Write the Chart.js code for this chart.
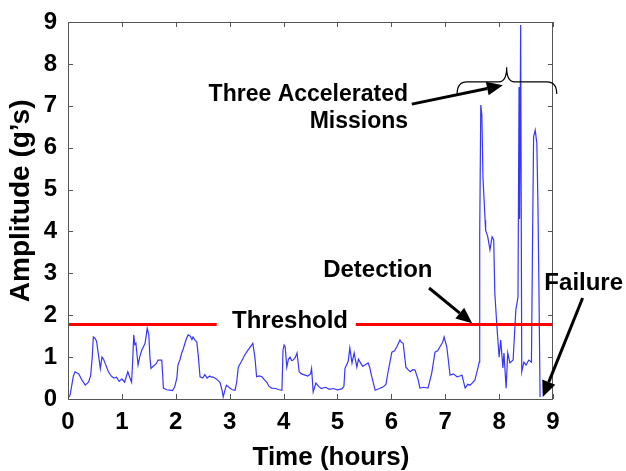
<!DOCTYPE html>
<html>
<head>
<meta charset="utf-8">
<script src="https://cdn.jsdelivr.net/npm/chart.js@4.4.1/dist/chart.umd.min.js"></script>
<style>
  html, body { margin: 0; padding: 0; background: #fff; }
</style>
</head>
<body>
<canvas id="vibChart" width="626" height="471"></canvas>
<script>
// Time (hours) and amplitude (g's)
var timeHours = [
  0.02, 0.04, 0.10, 0.13, 0.20, 0.26, 0.32, 0.38, 0.42, 0.45, 0.47, 0.50, 0.53, 0.56, 0.60, 0.63, 0.66, 0.69, 0.75, 0.80,
  0.85, 0.90, 0.95, 1.00, 1.05, 1.11, 1.15, 1.18, 1.20, 1.22, 1.24, 1.26, 1.30, 1.33, 1.37, 1.40, 1.43, 1.45, 1.47, 1.50,
  1.52, 1.54, 1.58, 1.61, 1.64, 1.67, 1.74, 1.76, 1.77, 1.83, 1.89, 1.94, 1.98, 2.02, 2.04, 2.08, 2.11, 2.14, 2.17, 2.20,
  2.23, 2.27, 2.30, 2.32, 2.36, 2.39, 2.42, 2.45, 2.50, 2.54, 2.58, 2.63, 2.66, 2.69, 2.75, 2.82, 2.86, 2.88, 2.91, 2.94,
  2.97, 3.00, 3.05, 3.10, 3.13, 3.16, 3.22, 3.28, 3.33, 3.38, 3.43, 3.47, 3.50, 3.55, 3.60, 3.65, 3.69, 3.73, 3.78, 3.85,
  3.92, 3.97, 3.99, 4.01, 4.03, 4.06, 4.09, 4.12, 4.15, 4.18, 4.22, 4.25, 4.29, 4.33, 4.40, 4.45, 4.50, 4.52, 4.55, 4.60,
  4.65, 4.70, 4.78, 4.85, 4.92, 5.00, 5.08, 5.12, 5.14, 5.20, 5.23, 5.27, 5.31, 5.36, 5.39, 5.42, 5.47, 5.51, 5.57, 5.60,
  5.63, 5.70, 5.78, 5.85, 5.90, 5.94, 6.01, 6.06, 6.10, 6.16, 6.19, 6.22, 6.27, 6.31, 6.35, 6.40, 6.44, 6.50, 6.53, 6.60,
  6.68, 6.75, 6.81, 6.86, 6.90, 6.95, 6.98, 7.03, 7.06, 7.09, 7.15, 7.22, 7.27, 7.31, 7.37, 7.42, 7.46, 7.50, 7.55, 7.61,
  7.63, 7.64, 7.66, 7.68, 7.70, 7.74, 7.75, 7.79, 7.83, 7.87, 7.90, 7.92, 7.96, 8.00, 8.03, 8.07, 8.09, 8.13, 8.16, 8.20,
  8.26, 8.31, 8.35, 8.37, 8.38, 8.40, 8.42, 8.46, 8.50, 8.55, 8.60, 8.62, 8.64, 8.67, 8.70, 8.72, 8.74, 8.76
];
var amplitude = [
  0.05, 0.10, 0.55, 0.65, 0.60, 0.45, 0.33, 0.40, 0.55, 1.00, 1.48, 1.45, 1.38, 1.10, 0.73, 1.00, 0.95, 0.85, 0.65, 0.55,
  0.50, 0.52, 0.42, 0.48, 0.40, 0.65, 0.50, 0.40, 0.90, 1.53, 1.30, 1.33, 0.81, 1.00, 1.17, 1.25, 1.33, 1.50, 1.69, 1.53,
  1.00, 0.73, 0.78, 0.81, 0.85, 0.93, 0.93, 0.50, 0.26, 0.22, 0.21, 0.20, 0.29, 0.50, 0.81, 0.95, 1.10, 1.20, 1.33, 1.45,
  1.53, 1.50, 1.42, 1.48, 1.40, 1.36, 1.00, 0.53, 0.50, 0.58, 0.50, 0.55, 0.52, 0.53, 0.48, 0.40, 0.20, 0.05, 0.20, 0.33,
  0.30, 0.26, 0.22, 0.21, 0.40, 0.76, 0.90, 1.05, 1.15, 1.24, 1.33, 0.98, 0.53, 0.55, 0.53, 0.45, 0.40, 0.30, 0.26, 0.25,
  0.22, 0.21, 1.17, 1.29, 1.25, 0.76, 0.95, 1.00, 0.92, 0.93, 1.00, 1.10, 0.65, 0.60, 0.57, 0.55, 0.60, 0.73, 0.17, 0.38,
  0.30, 0.25, 0.28, 0.23, 0.25, 0.22, 0.24, 0.30, 0.73, 0.90, 1.22, 0.86, 1.10, 0.76, 0.95, 0.88, 0.78, 0.81, 0.86, 0.75,
  0.57, 0.21, 0.25, 0.29, 0.35, 0.65, 1.12, 1.15, 1.24, 1.41, 1.35, 1.33, 0.76, 0.70, 0.65, 0.70, 0.69, 0.45, 0.26, 0.28,
  0.26, 0.62, 1.12, 1.15, 1.24, 1.35, 1.48, 1.24, 0.90, 0.57, 0.60, 0.53, 0.55, 0.57, 0.26, 0.35, 0.33, 0.38, 0.45, 0.76,
  0.88, 3.96, 7.02, 6.78, 5.30, 4.27, 4.03, 3.87, 3.56, 3.87, 3.80, 2.53, 1.72, 1.00, 1.41, 0.74, 1.10, 0.26, 1.10, 0.86,
  0.93, 2.12, 2.43, 7.45, 4.30, 8.93, 0.65, 0.88, 0.81, 0.93, 0.88, 3.72, 6.26, 6.42, 6.11, 4.68, 2.53, 0.05
];

// Threshold level, with a gap where its label sits
var thresholdLevel = 1.78;
var thresholdX = [0, 2.76, 2.77, 5.34, 9];
var thresholdY = [thresholdLevel, thresholdLevel, null, thresholdLevel, thresholdLevel];

var xTicks = [0, 1, 2, 3, 4, 5, 6, 7, 8, 9];
var yTicks = [0, 1, 2, 3, 4, 5, 6, 7, 8, 9];

var FONT = '"Liberation Sans", Arial, Helvetica, sans-serif';

var trace = timeHours.map(function (t, i) { return { x: t, y: amplitude[i] }; });
var threshold = thresholdX.map(function (t, i) { return { x: t, y: thresholdY[i] }; });

// Draws the MATLAB style box, inward ticks, axis titles and the callouts
var figureExtras = {
  id: "figureExtras",
  afterDatasetsDraw: function (chart) {
    var ctx = chart.ctx;
    var a = chart.chartArea;
    var xs = chart.scales.x, ys = chart.scales.y;
    ctx.save();
    ctx.strokeStyle = "#555";
    ctx.lineWidth = 1;
    ctx.strokeRect(a.left + 0.5, a.top + 0.5, a.right - a.left - 1, a.bottom - a.top);
    ctx.beginPath();
    xTicks.forEach(function (t) {
      var x = Math.round(xs.getPixelForValue(t)) + 0.5;
      ctx.moveTo(x, a.bottom); ctx.lineTo(x, a.bottom - 5);
      ctx.moveTo(x, a.top); ctx.lineTo(x, a.top + 5);
    });
    yTicks.forEach(function (v) {
      var y = Math.round(ys.getPixelForValue(v)) + 0.5;
      ctx.moveTo(a.left, y); ctx.lineTo(a.left + 5, y);
      ctx.moveTo(a.right, y); ctx.lineTo(a.right - 5, y);
    });
    ctx.stroke();
    ctx.restore();
  },
  afterDraw: function (chart) {
    var ctx = chart.ctx;
    var xs = chart.scales.x, ys = chart.scales.y;
    function P(t, v) { return [xs.getPixelForValue(t), ys.getPixelForValue(v)]; }

    function arrow(from, to) {
      var p0 = P(from[0], from[1]), p1 = P(to[0], to[1]);
      var ang = Math.atan2(p1[1] - p0[1], p1[0] - p0[0]);
      var len = 16, wid = 7;
      var bx = p1[0] - len * Math.cos(ang), by = p1[1] - len * Math.sin(ang);
      ctx.strokeStyle = "#000";
      ctx.fillStyle = "#000";
      ctx.lineWidth = 3;
      ctx.beginPath();
      ctx.moveTo(p0[0], p0[1]);
      ctx.lineTo(bx, by);
      ctx.stroke();
      ctx.beginPath();
      ctx.moveTo(p1[0], p1[1]);
      ctx.lineTo(bx + wid * Math.sin(ang), by - wid * Math.cos(ang));
      ctx.lineTo(bx - wid * Math.sin(ang), by + wid * Math.cos(ang));
      ctx.closePath();
      ctx.fill();
    }

    function label(text, t, v, align, size) {
      var p = P(t, v);
      ctx.fillStyle = "#000";
      ctx.font = "bold " + size + "px " + FONT;
      ctx.textAlign = align;
      ctx.textBaseline = "middle";
      ctx.fillText(text, p[0], p[1]);
    }

    ctx.save();
    // axis titles (the original sits a bit off-centre)
    ctx.fillStyle = "#000";
    ctx.textAlign = "center";
    ctx.textBaseline = "middle";
    ctx.font = "bold 26px " + FONT;
    ctx.fillText("Time (hours)", xs.getPixelForValue(4.88), 458);
    ctx.save();
    ctx.translate(21, ys.getPixelForValue(4.73));
    ctx.rotate(-Math.PI / 2);
    ctx.font = "bold 28px " + FONT;
    ctx.fillText("Amplitude (g\u2019s)", 0, 0);
    ctx.restore();

    label("Three Accelerated", 6.31, 7.26, "right", 23);
    label("Missions", 6.31, 6.61, "right", 23);
    label("Detection", 5.75, 3.06, "center", 24);
    label("Threshold", 4.12, 1.86, "center", 24);
    label("Failure", 9.57, 2.76, "center", 24);

    arrow([6.38, 7.04], [8.07, 7.49]);
    arrow([6.70, 2.65], [7.50, 1.81]);
    arrow([9.55, 2.41], [8.81, 0.05]);

    // curly brace over the three missions
    var L = P(7.22, 7.28), M = P(8.14, 7.92), R = P(9.07, 7.28);
    var h = ys.getPixelForValue(7.57);
    ctx.strokeStyle = "#000";
    ctx.lineWidth = 1.2;
    ctx.beginPath();
    ctx.moveTo(L[0], L[1]);
    ctx.quadraticCurveTo(L[0], h, L[0] + 10, h);
    ctx.lineTo(M[0] - 8, h);
    ctx.quadraticCurveTo(M[0], h, M[0], M[1]);
    ctx.quadraticCurveTo(M[0], h, M[0] + 8, h);
    ctx.lineTo(R[0] - 10, h);
    ctx.quadraticCurveTo(R[0], h, R[0], R[1]);
    ctx.stroke();
    ctx.restore();
  }
};

var ctx = document.getElementById("vibChart").getContext("2d");

var myChart = new Chart(ctx, {
  type: "line",
  data: {
    datasets: [
      {
        label: "Threshold",
        data: threshold,
        borderColor: "#ff0000",
        borderWidth: 3,
        pointRadius: 0,
        spanGaps: false,
      },
      {
        label: "Amplitude",
        data: trace,
        borderColor: "#3636ff",
        borderWidth: 1.2,
        pointRadius: 0,
        tension: 0,
      },
    ],
  },
  options: {
    responsive: false,
    animation: false,
    layout: { padding: { top: 22, right: 73, left: 0, bottom: 0 } },
    plugins: {
      legend: { display: false },
      tooltip: { enabled: false },
    },
    scales: {
      x: {
        type: "linear",
        min: 0,
        max: 9,
        afterBuildTicks: function (s) { s.ticks = xTicks.map(function (v) { return { value: v }; }); },
        afterFit: function (s) { s.height = 72; },
        grid: { display: false },
        border: { display: false },
        ticks: { color: "#000", padding: 1, font: { family: FONT, size: 24, weight: "bold" } },
        title: { display: false },
      },
      y: {
        min: 0,
        max: 9,
        afterBuildTicks: function (s) { s.ticks = yTicks.map(function (v) { return { value: v }; }); },
        afterFit: function (s) { s.width = 68; },
        grid: { display: false },
        border: { display: false },
        ticks: { color: "#000", padding: 3, font: { family: FONT, size: 24, weight: "bold" } },
        title: { display: false },
      },
    },
  },
  plugins: [figureExtras],
});
</script>
</body>
</html>
